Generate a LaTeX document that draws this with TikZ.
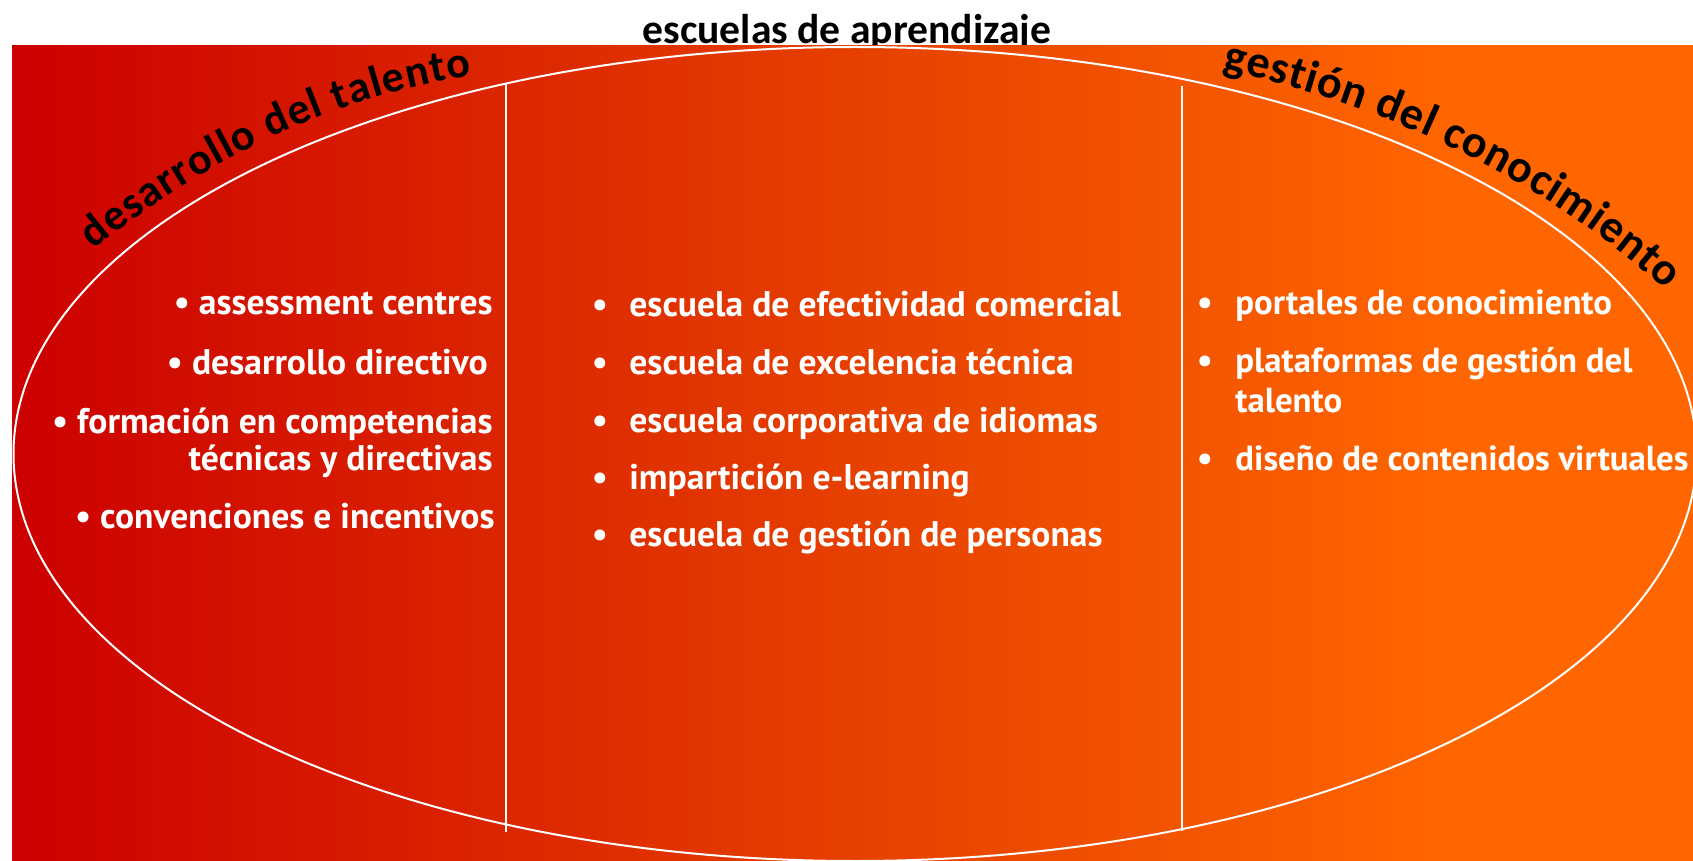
\documentclass[tikz,border=0pt]{standalone}
\usepackage{fontspec}
\setmainfont{PT Sans}
\newfontfamily\titlefont{Carlito}
\usetikzlibrary{decorations.text}
\definecolor{bgA}{RGB}{204,0,0}
\definecolor{bgB}{RGB}{230,64,0}
\definecolor{bgC}{RGB}{255,102,0}
\pgfdeclarehorizontalshading{bgshade}{100bp}{color(0bp)=(bgA); color(25bp)=(bgA); color(50bp)=(bgB); color(68bp)=(bgC); color(100bp)=(bgC)}
\tikzset{
  itemtext/.style={text=white, font=\bfseries\fontsize{17.8}{19}\selectfont, inner sep=0pt},
  smallitem/.style={text=white, font=\bfseries\fontsize{17.4}{19}\selectfont, inner sep=0pt},
  bullet/.style={itemtext, anchor=base},
  leftitem/.style={itemtext, anchor=base east},
  rightitem/.style={itemtext, anchor=base west},
  lastitem/.style={smallitem, anchor=base west},
  titletext/.style={text=black, font=\titlefont\bfseries\fontsize{20.8}{21}\selectfont, inner sep=0pt},
  divider/.style={white, line width=1.3pt},
  oval/.style={white, line width=1pt},
}
\begin{document}
\begin{tikzpicture}[x=0.5pt,y=-0.5pt]
\useasboundingbox (0,0) rectangle (1693,861);
% top title (behind the background panel)
\node[titletext, anchor=base] (ttop) at (847,44) {escuelas de aprendizaje};
% background panel
\shade[shading=bgshade] (12,46) rectangle (1693,861);
\begin{scope}
\clip (0,0) rectangle (1693,861);
\node[draw=none, inner sep=0pt, minimum width=0pt] (center) at (855,454) {};
\draw[oval] (center) ellipse [x radius=420.75pt, y radius=203.5pt];
\end{scope}
% dividers
\coordinate (d1t) at (506,83);
\coordinate (d1b) at (506,832);
\coordinate (d2t) at (1182,86);
\coordinate (d2b) at (1182,831);
\draw[divider] (d1t) -- (d1b);
\draw[divider] (d2t) -- (d2b);
% curved titles
\coordinate (la) at (94,250);
\coordinate (lb) at (190,170);
\coordinate (lc) at (330,95);
\coordinate (ld) at (472,76);
\path[decorate, decoration={text along path, text align=fit to path,
  text format delimiters={|}{|},
  text={|\titlefont\bfseries\fontsize{22}{22}\selectfont|desarrollo del talento}}]
  (la) .. controls (lb) and (lc) .. (ld);
\coordinate (ra) at (1222,70);
\coordinate (rb) at (1370,100);
\coordinate (rc) at (1535,172);
\coordinate (rd) at (1666,290);
\path[decorate, decoration={text along path, text align=fit to path,
  text format delimiters={|}{|},
  text={|\titlefont\bfseries\fontsize{23}{23}\selectfont|gestión del conocimiento}}]
  (ra) .. controls (rb) and (rc) .. (rd);
% left column
\node[leftitem] (l1) at (493,315) {• assessment centres};
\node[leftitem] (l2) at (488,375) {• desarrollo directivo};
\node[leftitem] (l3) at (493,433) {• formación en competencias};
\node[leftitem] (l4) at (493,470) {técnicas y directivas};
\node[leftitem] (l5) at (495,528) {• convenciones e incentivos};
% middle column
\node[bullet] (mb1) at (600,317) {•};
\node[rightitem] (m1) at (629,317) {escuela de efectividad comercial};
\node[bullet] (mb2) at (600,374) {•};
\node[rightitem] (m2) at (629,374) {escuela de excelencia técnica};
\node[bullet] (mb3) at (600,432) {•};
\node[rightitem] (m3) at (629,432) {escuela corporativa de idiomas};
\node[bullet] (mb4) at (600,489) {•};
\node[rightitem] (m4) at (629,489) {impartición e-learning};
\node[bullet] (mb5) at (600,546) {•};
\node[rightitem] (m5) at (629,546) {escuela de gestión de personas};
% right column
\node[bullet] (rb1) at (1205,315) {•};
\node[lastitem] (r1) at (1235,315) {portales de conocimiento};
\node[bullet] (rb2) at (1205,372) {•};
\node[lastitem] (r2) at (1235,372) {plataformas de gestión del};
\node[lastitem] (r2b) at (1235,412) {talento};
\node[bullet] (rb3) at (1205,470) {•};
\node[lastitem] (r3) at (1235,470) {diseño de contenidos virtuales};
\end{tikzpicture}
\end{document}
